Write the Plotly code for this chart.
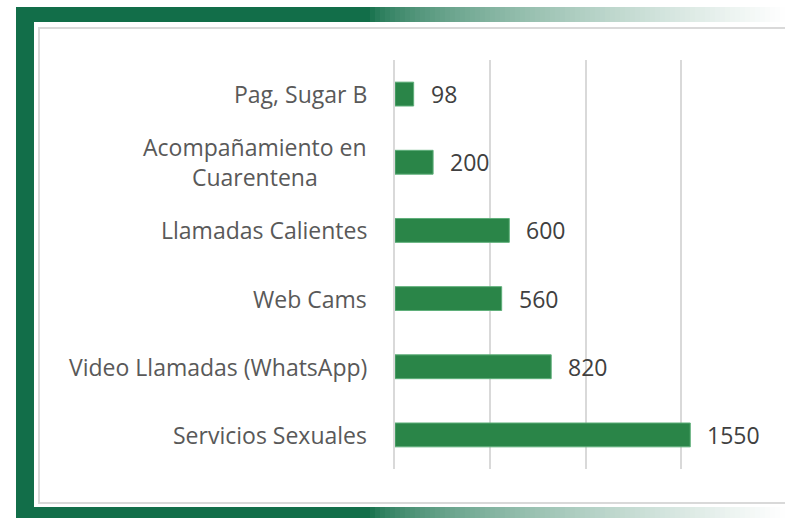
import plotly.graph_objects as go

categories = ["Pag, Sugar B", "Acompañamiento en<br>Cuarentena", "Llamadas Calientes",
              "Web Cams", "Video Llamadas (WhatsApp)", "Servicios Sexuales"]
values = [98, 200, 600, 560, 820, 1550]
x_ticks = [0, 500, 1000, 1500, 2000]

W, H = 785, 518
GREEN = (18, 110, 73)
BAR = "#2A8548"
FONT = "Open Sans"
FS = 23

fig = go.Figure()
fig.add_trace(go.Bar(
    y=categories, x=values, orientation="h",
    marker=dict(color=BAR, line=dict(color="#5FAF7A", width=1)),
    width=0.35, hoverinfo="skip",
))

shapes = []
def px(x0, y0, x1, y1, color, **kw):
    shapes.append(dict(type="rect", xref="paper", yref="paper",
                       x0=x0 / W, x1=x1 / W, y0=1 - y1 / H, y1=1 - y0 / H,
                       fillcolor=color, line=dict(width=0), layer="below", **kw))

# frame: solid green left part + gradient fading right (top and bottom bands)
px(16, 7, 34, 518, "rgb(%d,%d,%d)" % GREEN)
for (ya, yb) in [(7, 22), (507, 518)]:
    px(16, ya, 371, yb, "rgb(%d,%d,%d)" % GREEN)
    n = 83
    g0, g1 = 370, 785
    for i in range(n):
        xa = g0 + (g1 - g0) * i / n
        xb = g0 + (g1 - g0) * (i + 1) / n + 0.6
        t = ((i + 0.5) / n) ** 0.6
        c = tuple(int(round(GREEN[k] + (255 - GREEN[k]) * min(1, t))) for k in range(3))
        px(xa, ya, xb, yb, "rgb(%d,%d,%d)" % c)
# inner light gray border
shapes.append(dict(type="rect", xref="paper", yref="paper",
                   x0=39 / W, x1=800 / W, y0=1 - 503 / H, y1=1 - 28 / H,
                   fillcolor="rgba(0,0,0,0)", line=dict(color="#D9D9D9", width=2), layer="below"))

# value labels
annotations = [dict(x=v, y=c, xref="x", yref="y", text=str(v), showarrow=False,
                    xanchor="left", xshift=15,
                    font=dict(family=FONT, size=FS, color="#404040"))
               for c, v in zip(categories, values)]
# category labels (centered multi-line, right-anchored)
annotations += [dict(x=369 / W, y=c, xref="paper", yref="y", text=c, showarrow=False,
                     xanchor="right", align="center",
                     font=dict(family=FONT, size=FS, color="#595959"))
                for c in categories]

fig.update_layout(
    width=W, height=H, margin=dict(l=0, r=0, t=0, b=0),
    paper_bgcolor="white", plot_bgcolor="rgba(0,0,0,0)",
    showlegend=False, shapes=shapes, annotations=annotations,
    xaxis=dict(domain=[395 / W, 776 / W], range=[0, 2000], tickvals=x_ticks,
               showticklabels=False, showgrid=True, gridcolor="#D9D9D9", gridwidth=2,
               zeroline=False, showline=False, fixedrange=True),
    yaxis=dict(domain=[1 - 469 / H, 1 - 60 / H], autorange="reversed",
               showgrid=False, showline=True, linecolor="#D9D9D9", linewidth=2,
               ticks="", showticklabels=False, fixedrange=True),
    bargap=0.65,
)
fig.write_html("out.html", config={"displayModeBar": False},
               post_script="document.body.style.margin='0';document.body.style.overflow='hidden';")
